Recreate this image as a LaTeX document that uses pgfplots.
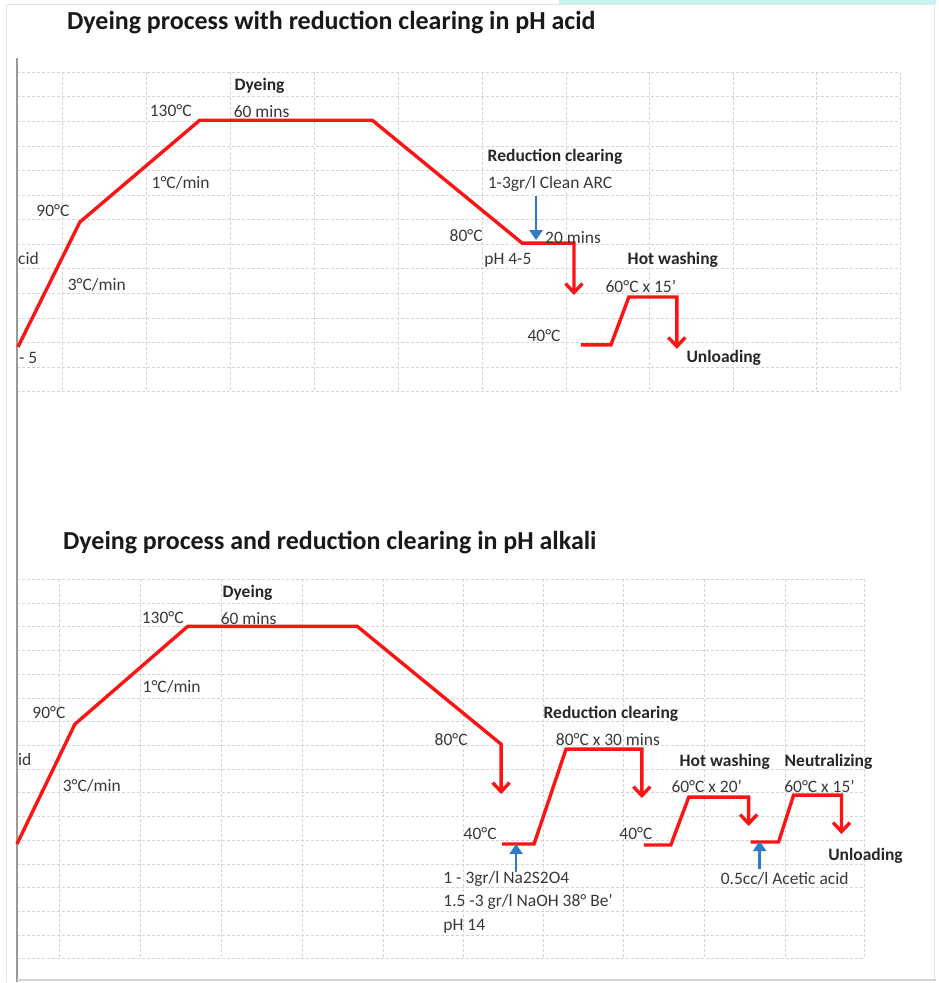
\documentclass[border=0pt]{standalone}
\usepackage{pgfplots}
\pgfplotsset{compat=1.18}
\usepackage{fontspec}
\setmainfont{Carlito}
\usetikzlibrary{arrows.meta}
\definecolor{gridc}{HTML}{D4D4D4}
\definecolor{txt}{HTML}{383838}
\definecolor{bluea}{HTML}{2E7BC4}
\definecolor{redl}{HTML}{FA1414}
\definecolor{bord}{HTML}{9A9A9A}
\definecolor{cyanb}{HTML}{C8F4F0}
\pgfplotsset{
  px/.style={x=1pt,y=1pt,y dir=reverse},
  gridax/.style={px, anchor=north west, grid=major,
    major grid style={gridc, line width=0.9pt, dash pattern=on 3pt off 2pt},
    axis line style={draw=none}, tick style={draw=none},
    xticklabels={,,}, yticklabels={,,}},
}
\tikzset{
  lbl/.style={font=\fontsize{17.5}{19}\selectfont, text=txt, inner sep=0pt},
  blbl/.style={font=\fontsize{17.5}{19}\selectfont\bfseries, text=black!85, inner sep=0pt},
  ttl/.style={font=\fontsize{26}{28}\selectfont\bfseries, text=black!90, inner sep=0pt, anchor=west},
  rline/.style={redl, line width=3.4pt, line join=miter},
  rarrow/.style={rline, -{Straight Barb[length=9pt,width=17pt]}},
  barrow/.style={bluea, line width=2.6pt, -{Triangle[length=10pt,width=13pt]}},
}
\begin{document}
\begin{tikzpicture}
% top grid
\begin{axis}[gridax, at={(17pt,-72pt)}, xmin=17, xmax=902, ymin=72, ymax=392,
  xtick={63,147,231,315,399,483,567,651,735,818,902},
  ytick={72,96.6,121.2,145.8,170.5,195.1,219.7,244.3,268.9,293.5,318.2,342.8,367.4,392}]
  \addplot[draw=none] coordinates {(17,72)};
\end{axis}
% bottom grid
\begin{axis}[gridax, at={(17pt,-580pt)}, xmin=17, xmax=866, ymin=580, ymax=960,
  xtick={60,141,222,303,384,464,544,625,706,787,866},
  ytick={580,603.75,627.5,651.25,675,698.75,722.5,746.25,770,793.75,817.5,841.25,865,888.75,912.5,936.25,960}]
  \addplot[draw=none] coordinates {(17,580)};
\end{axis}
% main layer
\begin{axis}[px, at={(0pt,0pt)}, anchor=north west, xmin=0, xmax=938, ymin=0, ymax=983,
  hide axis, clip=false]
  \addplot[draw=none] coordinates {(0,0) (938,983)};
  % sheet borders
  \addplot[cyanb, line width=4pt] coordinates {(560,1.5) (938,1.5)};
  \addplot[gridc!60, line width=1pt] coordinates {(7,983) (7,4) (936,4) (936,983)};
  \addplot[bord, line width=2.5pt] coordinates {(17,58) (17,983)};
  \addplot[gridc, line width=1.5pt] coordinates {(17,981) (938,981)};
  % titles
  \node[ttl] at (axis cs:67,22) {Dyeing process with reduction clearing in pH acid};
  \node[ttl] at (axis cs:63,543) {Dyeing process and reduction clearing in pH alkali};

  % ---------- top process ----------
  \addplot[rarrow] coordinates {(18,347) (80,222) (200,120) (373,120) (523,243) (575,243) (575,295)};
  \addplot[rarrow] coordinates {(582,345) (612,345) (630,297) (678,297) (678,349)};
  \addplot[barrow] coordinates {(537,196) (537,240)};
  \node[blbl] at (axis cs:260,85) {Dyeing};
  \node[lbl, anchor=west] at (axis cs:234,111) {60 mins};
  \node[lbl] at (axis cs:171,110) {130°C};
  \node[lbl] at (axis cs:181,183) {1°C/min};
  \node[lbl] at (axis cs:53,210) {90°C};
  \node[lbl] at (axis cs:97,285) {3°C/min};
  \node[lbl, anchor=west] at (axis cs:18,258) {cid};
  \node[lbl, anchor=west] at (axis cs:19,358) {- 5};
  \node[lbl] at (axis cs:467,235) {80°C};
  \node[blbl] at (axis cs:556,157) {Reduction clearing};
  \node[lbl] at (axis cs:551,184) {1-3gr/l Clean ARC};
  \node[lbl, anchor=west] at (axis cs:546,237) {20 mins};
  \node[lbl, anchor=west] at (axis cs:485,260) {pH 4-5};
  \node[blbl] at (axis cs:674,260) {Hot washing};
  \node[lbl] at (axis cs:642,286) {60°C x 15'};
  \node[lbl] at (axis cs:545,336) {40°C};
  \node[blbl] at (axis cs:725,358) {Unloading};

  % ---------- bottom process ----------
  \addplot[rarrow] coordinates {(17,845) (75,725) (188,627) (358,627) (502,745) (502,795)};
  \addplot[rarrow] coordinates {(503,845) (535,845) (567,750) (643,750) (643,799)};
  \addplot[rarrow] coordinates {(645,846) (672,846) (690,798) (750,798) (750,827)};
  \addplot[rarrow] coordinates {(752,843) (780,843) (795,796) (843,796) (843,835)};
  \addplot[barrow] coordinates {(517,873) (517,845)};
  \addplot[barrow] coordinates {(761,870) (761,842)};
  \node[blbl] at (axis cs:248,593) {Dyeing};
  \node[lbl, anchor=west] at (axis cs:221,619) {60 mins};
  \node[lbl] at (axis cs:163,618) {130°C};
  \node[lbl] at (axis cs:172,688) {1°C/min};
  \node[lbl] at (axis cs:49,713) {90°C};
  \node[lbl] at (axis cs:92,787) {3°C/min};
  \node[lbl, anchor=west] at (axis cs:18,760) {id};
  \node[lbl] at (axis cs:452,740) {80°C};
  \node[lbl] at (axis cs:481,835) {40°C};
  \node[blbl] at (axis cs:612,715) {Reduction clearing};
  \node[lbl] at (axis cs:609,740) {80°C x 30 mins};
  \node[blbl] at (axis cs:726,763) {Hot washing};
  \node[blbl] at (axis cs:830,763) {Neutralizing};
  \node[lbl] at (axis cs:708,787) {60°C x 20'};
  \node[lbl] at (axis cs:821,787) {60°C x 15'};
  \node[lbl] at (axis cs:637,835) {40°C};
  \node[blbl] at (axis cs:867,857) {Unloading};
  \node[lbl, anchor=west] at (axis cs:444,880) {1 - 3gr/l Na2S2O4};
  \node[lbl, anchor=west] at (axis cs:444,903) {1.5 -3 gr/l NaOH 38° Be'};
  \node[lbl, anchor=west] at (axis cs:444,927) {pH 14};
  \node[lbl] at (axis cs:786,880) {0.5cc/l Acetic acid};
\end{axis}
\end{tikzpicture}
\end{document}
